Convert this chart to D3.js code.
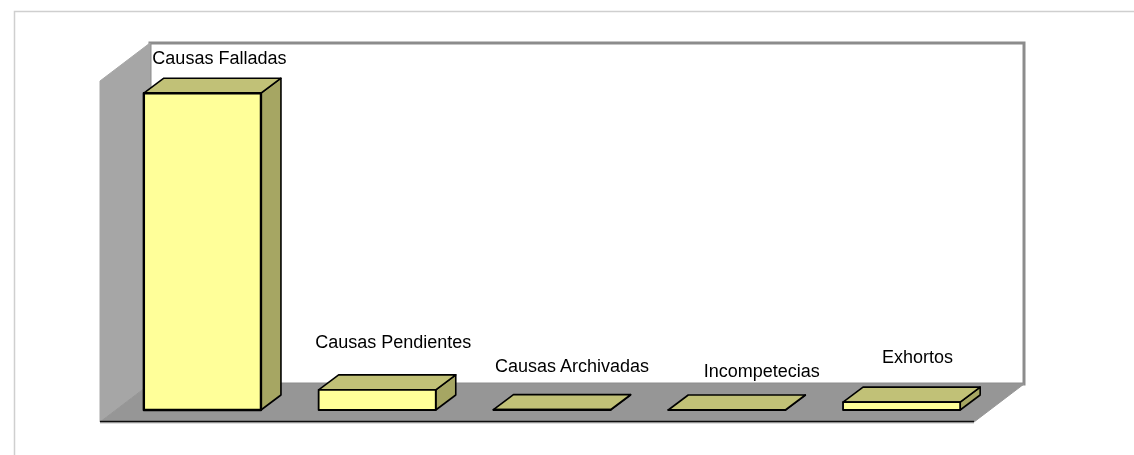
<!DOCTYPE html>
<html><head><meta charset="utf-8">
<script src="https://cdnjs.cloudflare.com/ajax/libs/d3/7.9.0/d3.min.js"></script>
<style>html,body{margin:0;padding:0;background:#fff}svg{display:block}</style>
</head><body><svg id="c" width="1134" height="455"></svg>
<script>
const categories = ["Causas Falladas","Causas Pendientes","Causas Archivadas","Incompetecias","Exhortos"];
const values = [88, 5.6, 0.1, 0, 2.2];
const yTop = 100;

// layout
const labelShift = [[17,-29],[16,-42],[20,-38],[35,-33],[16,-39]];
const floorFrontY = 422, floorLeft = 100, floorRight = 974;
const depthX = 50, depthY = 38, barDX = 20, barDY = 15, insetX = 15, insetY = 12;
const wallTop = 43;

const defs = d3.select("#c").append("defs");
defs.append("filter").attr("id","soft").attr("x",0).attr("y",0).attr("width","100%").attr("height","100%")
  .attr("filterUnits","userSpaceOnUse").attr("x",0).attr("y",0).attr("width",1134).attr("height",455)
  .append("feGaussianBlur").attr("stdDeviation",0.35);
const svg = d3.select("#c").append("g").attr("filter","url(#soft)");
const poly = d => "M" + d.map(p => p.join(",")).join("L") + "Z";

const x = d3.scaleBand().domain(categories).range([floorLeft, floorRight]).paddingInner(0.33).paddingOuter(0.165);
const y = d3.scaleLinear().domain([0, yTop]).range([floorFrontY - insetY, floorFrontY - insetY - 360]);

// frame
svg.append("path").attr("d","M14.5,455V11.5H1134").attr("fill","none").attr("stroke","#cfcfcf").attr("stroke-width",1.5);

// walls
svg.append("rect").attr("x",floorLeft+depthX).attr("y",wallTop).attr("width",floorRight-floorLeft).attr("height",floorFrontY-depthY-wallTop)
  .attr("fill","#fff").attr("stroke","#8c8c8c").attr("stroke-width",3);
svg.append("path").attr("d",poly([[floorLeft,wallTop+depthY],[floorLeft+depthX,wallTop],[floorLeft+depthX,floorFrontY-depthY],[floorLeft,floorFrontY]]))
  .attr("fill","#a6a6a6").attr("stroke","#a6a6a6");
svg.append("path").attr("d",poly([[floorLeft,floorFrontY],[floorLeft+depthX,floorFrontY-depthY],[floorRight+depthX,floorFrontY-depthY],[floorRight,floorFrontY]]))
  .attr("fill","#969696").attr("stroke","#969696");
svg.append("line").attr("x1",floorLeft).attr("x2",floorRight).attr("y1",floorFrontY+0.5).attr("y2",floorFrontY+0.5).attr("stroke","#bdbdbd").attr("stroke-width",2);
svg.append("line").attr("x1",floorLeft).attr("x2",floorRight).attr("y1",floorFrontY-0.5).attr("y2",floorFrontY-0.5).attr("stroke","#111").attr("stroke-width",1.5);

// bars
const bars = svg.selectAll("g.bar").data(categories.map((c,i)=>({c,v:values[i],i}))).join("g").attr("class","bar");
function styled(sel,fill,w){ sel.attr("fill",fill).attr("stroke","#000").attr("stroke-width",w).attr("stroke-linejoin","round"); }
bars.each(function(d){
  const g = d3.select(this);
  const l = x(d.c)+insetX, r = l+x.bandwidth(), t = y(d.v), b = y(0);
  const heavy = d.i===0 ? 2.4 : 1.8;
  styled(g.append("path").attr("d",poly([[r,b],[r+barDX,b-barDY],[r+barDX,t-barDY],[r,t]])),"#a6a663",1.6);
  styled(g.append("path").attr("d",poly([[l,t],[l+barDX,t-barDY],[r+barDX,t-barDY],[r,t]])),"#c1c177",1.6);
  styled(g.append("path").attr("d",poly([[l,t],[r,t],[r,b],[l,b]])),"#ffff99",heavy);
});

// labels
svg.selectAll("text.lab").data(categories).join("text").attr("class","lab")
  .attr("x",(c,i)=>x(c)+insetX+x.bandwidth()/2+labelShift[i][0])
  .attr("y",(c,i)=>y(values[i])+labelShift[i][1])
  .attr("text-anchor","middle")
  .attr("font-family","'Liberation Sans',Arial,sans-serif").attr("font-size",18).attr("fill","#000")
  .text(c=>c);
</script></body></html>
